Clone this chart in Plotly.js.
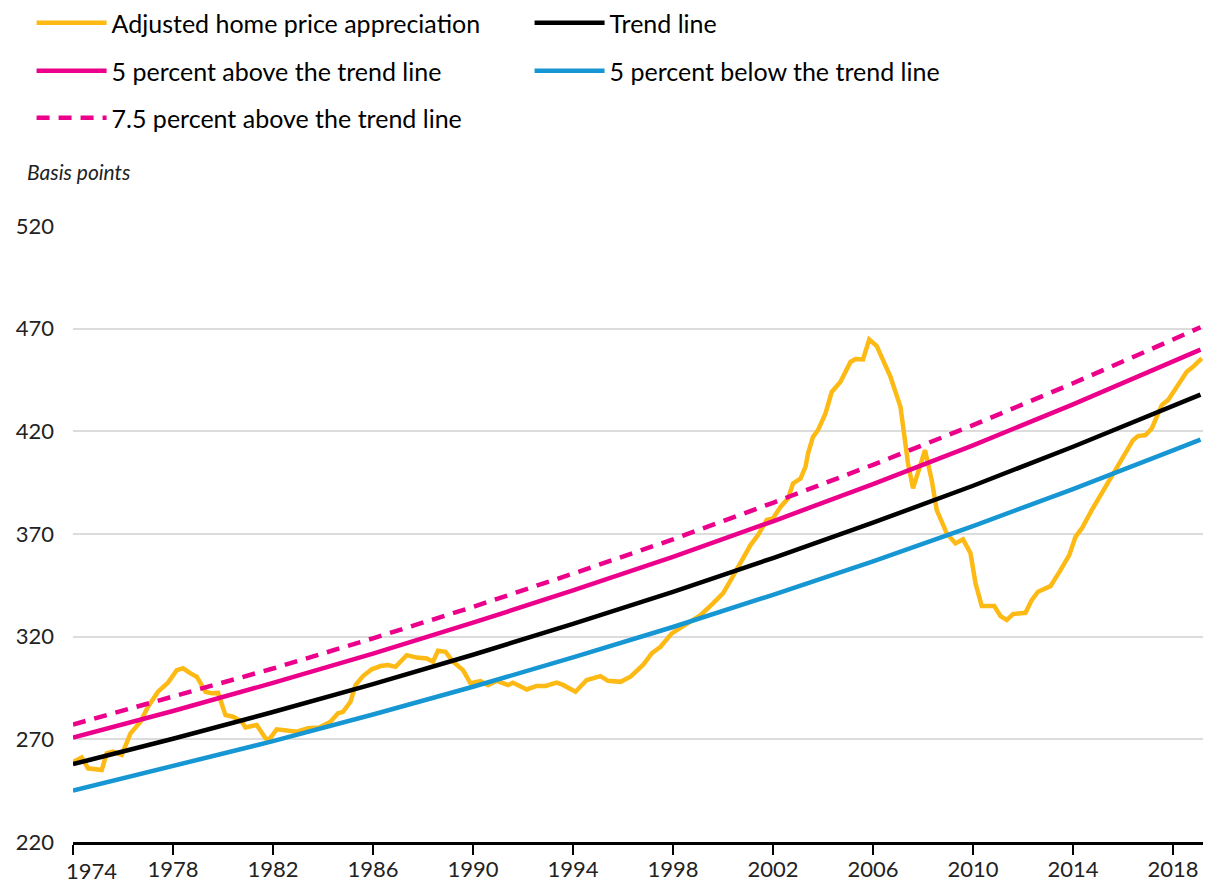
<!DOCTYPE html>
<html>
<head>
<meta charset="utf-8">
<script src="https://cdn.plot.ly/plotly-3.0.1.min.js"></script>
<style>
  html, body { margin: 0; padding: 0; background: #fff; }
  #chart { width: 1205px; height: 884px; }
</style>
</head>
<body>
<div id="chart"></div>
<script>
// ---- Data ----
const hpaYears = [
  1974.0, 1974.35, 1974.6, 1975.15, 1975.35, 1975.6, 1975.95, 1976.3, 1976.7, 1977.0,
  1977.4, 1977.8, 1978.15, 1978.4, 1978.7, 1978.95, 1979.3, 1979.55, 1979.8, 1980.1,
  1980.4, 1980.75, 1980.9, 1981.35, 1981.7, 1981.85, 1982.15, 1982.55, 1982.95, 1983.4,
  1983.85, 1984.3, 1984.6, 1984.8, 1985.1, 1985.3, 1985.6, 1985.95, 1986.3, 1986.6,
  1986.9, 1987.35, 1987.75, 1988.15, 1988.4, 1988.6, 1988.9, 1989.2, 1989.6, 1989.9,
  1990.3, 1990.6, 1990.95, 1991.4, 1991.6, 1992.15, 1992.55, 1992.9, 1993.35, 1993.6,
  1994.1, 1994.55, 1995.1, 1995.4, 1995.9, 1996.3, 1996.8, 1997.15, 1997.5, 1997.95,
  1998.55, 1999.1, 1999.6, 2000.0, 2000.35, 2000.75, 2001.1, 2001.4, 2001.75, 2002.0,
  2002.3, 2002.6, 2002.8, 2003.1, 2003.3, 2003.4, 2003.6, 2003.8, 2004.1, 2004.35,
  2004.7, 2005.1, 2005.3, 2005.6, 2005.85, 2006.15, 2006.4, 2006.7, 2007.1, 2007.3,
  2007.4, 2007.6, 2008.08, 2008.35, 2008.55, 2008.95, 2009.3, 2009.6, 2009.9, 2010.1,
  2010.35, 2010.85, 2011.1, 2011.35, 2011.6, 2012.1, 2012.35, 2012.6, 2013.1, 2013.5,
  2013.85, 2014.1, 2014.35, 2014.75, 2015.15, 2015.55, 2015.9, 2016.15, 2016.4, 2016.6,
  2016.9, 2017.15, 2017.35, 2017.55, 2017.8, 2018.15, 2018.55, 2018.8, 2019.15
];
const hpaValues = [
  259.0, 261.2, 255.9, 255.1, 263.2, 264.0, 262.4, 272.9, 278.6, 285.9,
  293.2, 297.6, 303.7, 304.6, 302.1, 300.5, 293.2, 292.4, 292.6, 281.8,
  281.0, 278.6, 275.8, 277.0, 270.5, 270.0, 274.9, 274.5, 273.7, 275.4,
  275.8, 278.6, 282.7, 283.4, 288.3, 296.4, 300.8, 304.1, 305.7, 306.2,
  305.3, 311.0, 309.8, 309.4, 307.8, 313.1, 312.6, 307.8, 303.7, 297.3,
  298.4, 296.4, 298.5, 296.4, 297.6, 294.3, 296.0, 296.0, 297.6, 296.5,
  293.2, 298.9, 300.8, 298.5, 298.0, 300.5, 306.2, 311.9, 315.1, 321.6,
  326.5, 330.5, 336.2, 341.1, 348.4, 357.3, 364.6, 369.5, 376.8, 377.6,
  383.2, 387.3, 394.6, 397.0, 402.7, 409.2, 417.3, 420.6, 428.7, 439.2,
  444.1, 453.8, 455.2, 455.0, 464.7, 461.5, 454.7, 446.5, 431.9, 415.7,
  404.4, 392.2, 410.8, 396.2, 381.6, 370.3, 365.4, 367.4, 360.6, 346.0,
  334.9, 334.9, 330.0, 328.1, 331.0, 331.6, 337.8, 341.9, 344.6, 352.4,
  359.7, 368.6, 372.7, 381.6, 389.8, 397.8, 404.4, 410.0, 415.7, 417.7,
  418.2, 421.4, 427.1, 432.8, 435.2, 441.7, 449.0, 451.4, 455.5
];

const trendYears   = [1974, 1978, 1982, 1986, 1990, 1994, 1998, 2002, 2006, 2010, 2014, 2018, 2019.1];
const trendValues  = [257.9, 270.3, 283.3, 296.9, 311.2, 326.2, 341.8, 358.3, 375.5, 393.5, 412.5, 432.3, 437.9];
const above5Values = [270.8, 283.8, 297.5, 311.7, 326.8, 342.5, 358.9, 376.2, 394.3, 413.2, 433.1, 453.9, 459.8];
const below5Values = [245.0, 256.8, 269.1, 282.1, 295.6, 309.9, 324.7, 340.4, 356.7, 373.8, 391.9, 410.7, 416.0];
const above75Values= [277.2, 290.6, 304.5, 319.2, 334.5, 350.7, 367.4, 385.2, 403.7, 423.0, 443.4, 464.7, 470.7];

const xTickYears  = [1974, 1978, 1982, 1986, 1990, 1994, 1998, 2002, 2006, 2010, 2014, 2018];
const xTickLabels = ['', '1978', '1982', '1986', '1990', '1994', '1998', '2002', '2006', '2010', '2014', '2018'];
const firstYearLabel = '1974';
const yTickValues = [220, 270, 320, 370, 420, 470, 520];

const seriesNames = [
  'Adjusted home price appreciation',
  'Trend line',
  '5 percent above the trend line',
  '5 percent below the trend line',
  '7.5 percent above the trend line'
];

// ---- Styles ----
const YELLOW = '#fdb914';
const PINK = '#ec008b';
const BLUE = '#1696d2';
const BLACK = '#000000';
const FONT = 'Lato, "Open Sans", sans-serif';
const LW = 4.5;

const traces = [
  { x: hpaYears, y: hpaValues, name: seriesNames[0], type: 'scatter', mode: 'lines',
    line: { color: YELLOW, width: LW }, legend: 'legend' },
  { x: trendYears, y: trendValues, name: seriesNames[1], type: 'scatter', mode: 'lines',
    line: { color: BLACK, width: LW }, legend: 'legend' },
  { x: trendYears, y: above5Values, name: seriesNames[2], type: 'scatter', mode: 'lines',
    line: { color: PINK, width: LW }, legend: 'legend2' },
  { x: trendYears, y: below5Values, name: seriesNames[3], type: 'scatter', mode: 'lines',
    line: { color: BLUE, width: LW }, legend: 'legend2' },
  { x: trendYears, y: above75Values, name: seriesNames[4], type: 'scatter', mode: 'lines',
    line: { color: PINK, width: LW, dash: '13px,9px' }, legend: 'legend3' }
];

const legendBase = {
  orientation: 'h',
  xref: 'container', yref: 'container',
  x: 0.0262, xanchor: 'left', yanchor: 'middle',
  font: { family: FONT, size: 25, color: '#000' },
  bgcolor: 'rgba(0,0,0,0)', borderwidth: 0,
  itemwidth: 70,
  entrywidth: 413, entrywidthmode: 'pixels',
  itemclick: false, itemdoubleclick: false,
  traceorder: 'normal'
};

const layout = {
  width: 1205, height: 884,
  paper_bgcolor: '#ffffff', plot_bgcolor: '#ffffff',
  font: { family: FONT, size: 22, color: '#222' },
  margin: { l: 73, r: 2, t: 226, b: 42 },
  showlegend: true,
  legend:  Object.assign({}, legendBase, { y: 1 - 23 / 884 }),
  legend2: Object.assign({}, legendBase, { y: 1 - 71 / 884 }),
  legend3: Object.assign({}, legendBase, { y: 1 - 118 / 884 }),
  xaxis: {
    type: 'linear',
    range: [1974, 2019.2],
    tickmode: 'array', tickvals: xTickYears, ticktext: xTickLabels,
    ticks: 'outside', ticklen: 10, tickwidth: 2, tickcolor: '#000',
    showline: true, linecolor: '#000', linewidth: 3,
    showgrid: false, zeroline: false,
    ticklabelstandoff: -4,
    tickfont: { family: FONT, size: 22, color: '#222' },
    fixedrange: true
  },
  yaxis: {
    range: [220, 520],
    tickmode: 'array', tickvals: yTickValues,
    showgrid: true, gridcolor: '#dcdcdc', gridwidth: 2,
    zeroline: false, showline: false, ticks: '',
    ticklabelstandoff: 18,
    tickfont: { family: FONT, size: 22, color: '#222' },
    fixedrange: true
  },
  annotations: [
    { text: '<i>Basis points</i>', xref: 'paper', yref: 'paper',
      x: -0.0425, y: (842 - 171) / 616, xanchor: 'left', yanchor: 'middle',
      showarrow: false, font: { family: FONT, size: 21, color: '#222' } },
    { text: firstYearLabel, xref: 'x', yref: 'paper',
      x: xTickYears[0], y: 0, xanchor: 'left', yanchor: 'top', xshift: -9, yshift: -13,
      showarrow: false, font: { family: FONT, size: 22, color: '#222' } }
  ]
};

Plotly.newPlot('chart', traces, layout, { displayModeBar: false, staticPlot: true });
</script>
</body>
</html>
